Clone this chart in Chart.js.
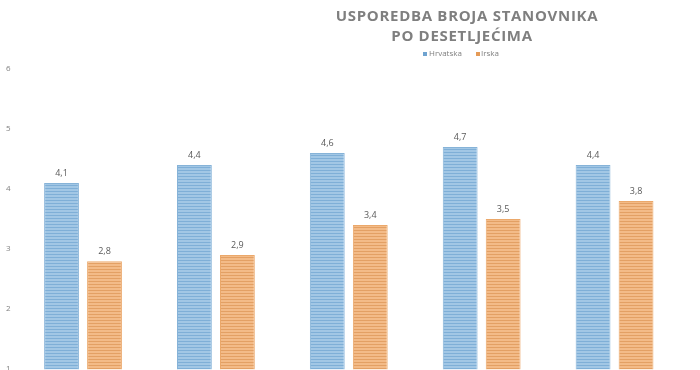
<!DOCTYPE html>
<html>
<head>
<meta charset="utf-8">
<script src="https://cdn.jsdelivr.net/npm/chart.js@4/dist/chart.umd.min.js"></script>
<style>
  html, body { margin: 0; padding: 0; background: #fff; overflow: hidden; }
  #wrap { width: 700px; height: 380px; }
</style>
</head>
<body>
<div id="wrap"><canvas id="myChart"></canvas></div>
<script>
const categories = ['1971', '1981', '1991', '2001', '2011'];
const hrvatska = [4.1, 4.4, 4.6, 4.7, 4.4];
const irska = [2.8, 2.9, 3.4, 3.5, 3.8];
const yTicks = [1, 2, 3, 4, 5, 6];

const titleLines = ['USPOREDBA BROJA STANOVNIKA', 'PO DESETLJEĆIMA'];

// horizontal stripes like the original fill
function stripes (base, line) {
    const c = document.createElement('canvas');
    c.width = 4;
    c.height = 3;
    const ctx = c.getContext('2d');
    ctx.fillStyle = base;
    ctx.fillRect(0, 0, 4, 3);
    ctx.fillStyle = line;
    ctx.fillRect(0, 2, 4, 1);
    return ctx.createPattern(c, 'repeat');
}

const titlePlugin = {
    id: 'titleAndLegend',
    afterDraw (chart) {
        const ctx = chart.ctx;
        ctx.save();
        ctx.fillStyle = '#7f7f7f';
        ctx.textAlign = 'center';
        ctx.textBaseline = 'middle';
        ctx.font = 'bold 15px "Open Sans", sans-serif';
        if ('letterSpacing' in ctx) ctx.letterSpacing = '0.7px';
        ctx.fillText(titleLines[0], 467, 17);
        ctx.fillText(titleLines[1], 462, 37);
        if ('letterSpacing' in ctx) ctx.letterSpacing = '0px';

        // legend
        ctx.font = '8px "Open Sans", sans-serif';
        ctx.textAlign = 'left';
        ctx.fillStyle = '#6fa3d0';
        ctx.fillRect(423, 52, 4, 4);
        ctx.fillStyle = '#e59b57';
        ctx.fillRect(476, 52, 4, 4);
        ctx.fillStyle = '#7f7f7f';
        ctx.fillText('Hrvatska', 429, 54);
        ctx.fillText('Irska', 481, 54);
        ctx.restore();
    }
};

const labelPlugin = {
    id: 'valueLabels',
    afterDatasetsDraw (chart) {
        const ctx = chart.ctx;
        ctx.save();
        ctx.font = '9px "Open Sans", sans-serif';
        ctx.fillStyle = '#595959';
        ctx.textAlign = 'center';
        ctx.textBaseline = 'bottom';
        chart.data.datasets.forEach((ds, i) => {
            chart.getDatasetMeta(i).data.forEach((bar, j) => {
                const txt = ds.data[j].toFixed(1).replace('.', ',');
                ctx.fillText(txt, bar.x, bar.y - 5);
            });
        });
        ctx.restore();
    }
};

const dataChart = {
    labels: categories,
    datasets: [
        {
            label: 'Hrvatska',
            data: hrvatska,
            backgroundColor: stripes('#a2c7e5', '#7fafd7'),
            borderColor: '#86b3d8',
            borderWidth: 1,
            borderSkipped: 'bottom',
        },
        {
            label: 'Irska',
            data: irska,
            backgroundColor: stripes('#f3bb88', '#e3a064'),
            borderColor: '#eba86a',
            borderWidth: 1,
            borderSkipped: 'bottom',
        },
    ],
};

const configChart = {
    type: 'bar',
    data: dataChart,
    plugins: [titlePlugin, labelPlugin],
    options: {
        responsive: true,
        maintainAspectRatio: false,
        animation: false,
        layout: { padding: { top: 69, left: 0, right: 19, bottom: 0 } },
        plugins: {
            legend: { display: false },
            title: { display: false },
            tooltip: { enabled: false },
        },
        datasets: {
            bar: { barPercentage: 0.81, categoryPercentage: 0.647 },
        },
        scales: {
            x: { display: false },
            y: {
                min: 1,
                max: 6,
                afterBuildTicks: axis => {
                    axis.ticks = yTicks.map(v => ({ value: v }));
                },
                grid: { display: false, drawTicks: false, tickLength: 0 },
                border: { display: false },
                ticks: {
                    padding: 6,
                    color: '#7f7f7f',
                    font: { size: 8, family: '"Open Sans", sans-serif' },
                },
            },
        },
    },
};

new Chart(document.getElementById('myChart'), configChart);
</script>
</body>
</html>
